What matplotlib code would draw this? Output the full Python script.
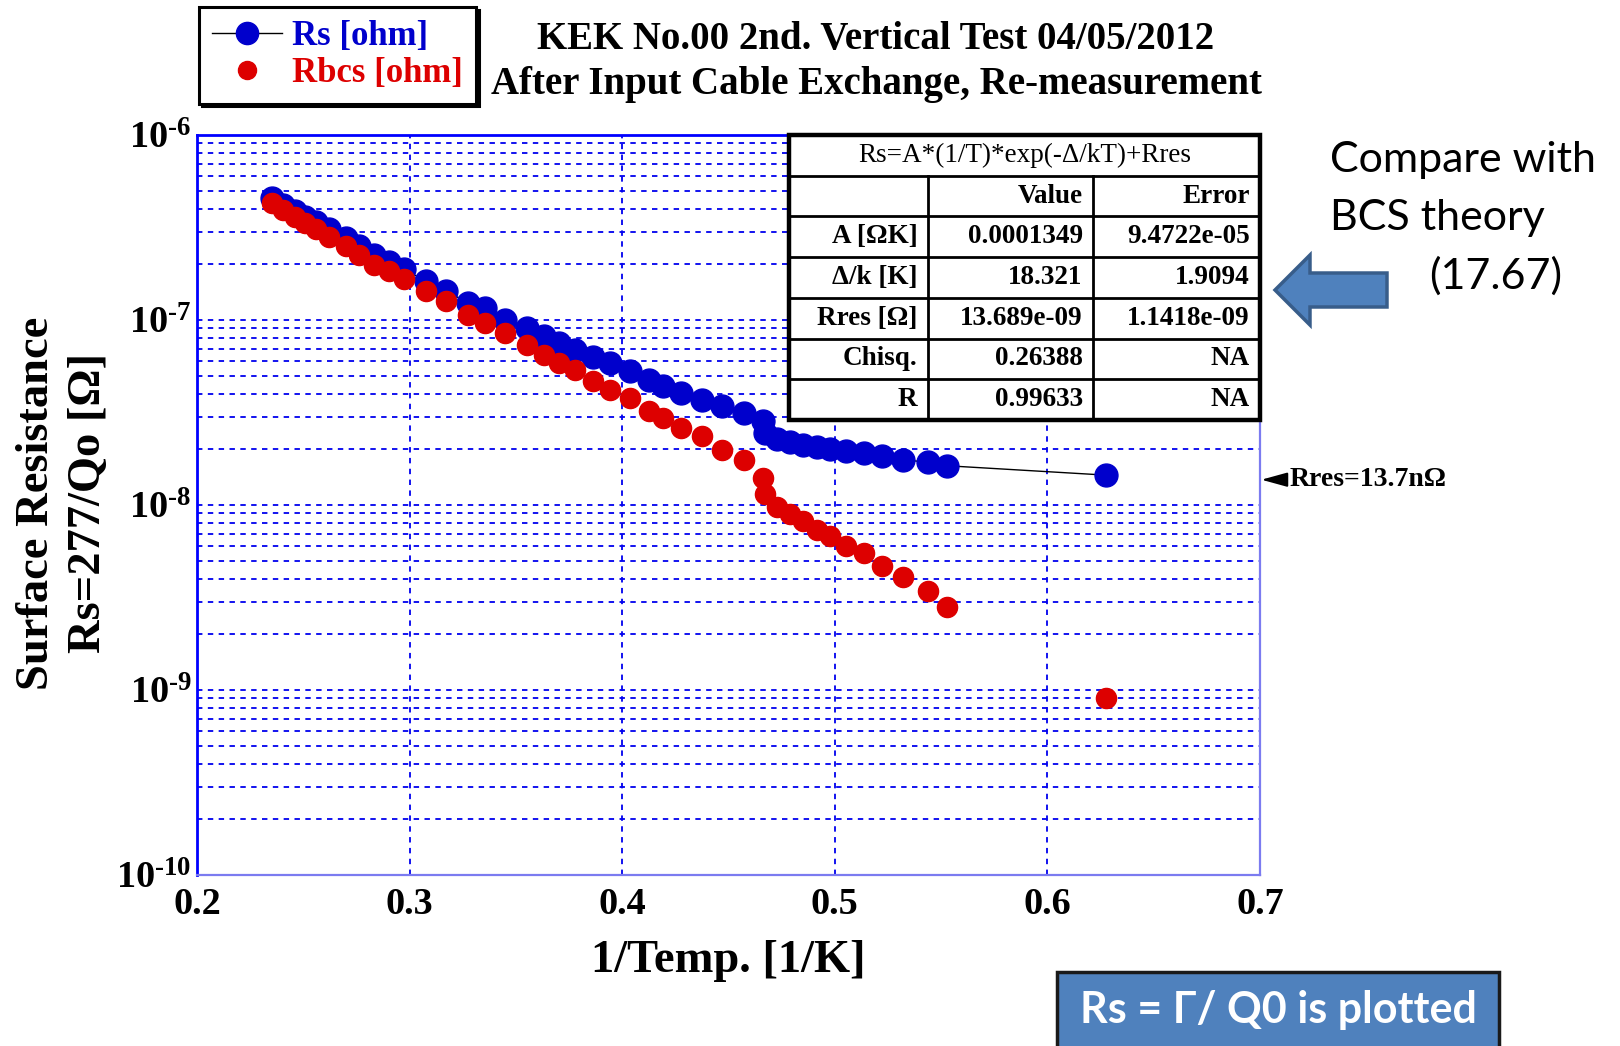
import matplotlib
matplotlib.use("Agg")
import matplotlib.pyplot as plt
from matplotlib.lines import Line2D
from matplotlib.patches import Rectangle, FancyArrow
from matplotlib.ticker import LogLocator, FuncFormatter, FixedLocator
import numpy as np

plt.rcParams['font.family'] = ['Liberation Serif', 'DejaVu Serif']
plt.rcParams['font.weight'] = 'bold'
plt.rcParams['mathtext.fontset'] = 'custom'
plt.rcParams['mathtext.rm'] = 'Liberation Serif:bold'
plt.rcParams['mathtext.bf'] = 'Liberation Serif:bold'
plt.rcParams['mathtext.default'] = 'bf'

# 1/T [1/K]
inv_temp = [0.2355, 0.2405, 0.2460, 0.2510, 0.2560, 0.2620, 0.2703, 0.2760, 0.2832, 0.2902,
            0.2973, 0.3079, 0.3173, 0.3275, 0.3357, 0.3451, 0.3553, 0.3631, 0.3702, 0.3780,
            0.3863, 0.3941, 0.4035, 0.4125, 0.4190, 0.4278, 0.4376, 0.4470, 0.4572, 0.4660,
            0.4670, 0.4730, 0.4790, 0.4850, 0.4915, 0.4976, 0.5053, 0.5137, 0.5223, 0.5321,
            0.5438, 0.5528, 0.6277]
# measured surface resistance [ohm]
rs_ohm = [4.56e-7, 4.20e-7, 3.88e-7, 3.62e-7, 3.40e-7, 3.12e-7, 2.77e-7, 2.52e-7, 2.25e-7, 2.05e-7,
          1.88e-7, 1.62e-7, 1.43e-7, 1.24e-7, 1.16e-7, 1.00e-7, 9.05e-8, 8.15e-8, 7.50e-8, 6.90e-8,
          6.30e-8, 5.86e-8, 5.28e-8, 4.75e-8, 4.40e-8, 4.03e-8, 3.71e-8, 3.41e-8, 3.14e-8, 2.83e-8,
          2.45e-8, 2.28e-8, 2.20e-8, 2.12e-8, 2.05e-8, 2.00e-8, 1.95e-8, 1.91e-8, 1.83e-8, 1.76e-8,
          1.70e-8, 1.63e-8, 1.45e-8]
# BCS part (residual removed) [ohm]
rbcs_ohm = [4.29e-7, 3.95e-7, 3.60e-7, 3.35e-7, 3.10e-7, 2.81e-7, 2.50e-7, 2.25e-7, 1.99e-7, 1.85e-7,
            1.67e-7, 1.43e-7, 1.26e-7, 1.07e-7, 9.60e-8, 8.50e-8, 7.35e-8, 6.50e-8, 5.86e-8, 5.35e-8,
            4.70e-8, 4.20e-8, 3.79e-8, 3.21e-8, 2.95e-8, 2.60e-8, 2.35e-8, 1.99e-8, 1.76e-8, 1.40e-8,
            1.14e-8, 9.80e-9, 8.90e-9, 8.15e-9, 7.35e-9, 6.76e-9, 6.02e-9, 5.50e-9, 4.66e-9, 4.08e-9,
            3.41e-9, 2.81e-9, 9.0e-10]

x_ticks = [0.2, 0.3, 0.4, 0.5, 0.6, 0.7]
y_decades = [1e-10, 1e-9, 1e-8, 1e-7, 1e-6]

fit_title = "Rs=A*(1/T)*exp(-Δ/kT)+Rres"
fit_cols = ["", "Value", "Error"]
fit_names = ["A [ΩK]", "Δ/k [K]", "Rres [Ω]", "Chisq.", "R"]
fit_values = ["0.0001349", "18.321", "13.689e-09", "0.26388", "0.99633"]
fit_errors = ["9.4722e-05", "1.9094", "1.1418e-09", "NA", "NA"]
rres_fit = 13.7e-9

BLUE = '#0000cc'
RED = '#dd0000'
W, H = 1620, 1046


def fx(px):
    return px / W


def fy(py):
    return 1 - py / H


def decade_label(v, pos):
    return r'$\mathbf{10}^{\text{-%d}}$' % round(-np.log10(v))


fig = plt.figure(figsize=(W / 100, H / 100), dpi=100)
ax = fig.add_axes([fx(197), fy(875), (1260 - 197) / W, (875 - 135) / H])

ax.plot(inv_temp, rs_ohm, color='k', lw=1, marker='o', ms=16.5,
        mfc=BLUE, mec=BLUE, zorder=3)
ax.plot(inv_temp, rbcs_ohm, ls='none', marker='o', ms=14.5,
        mfc=RED, mec=RED, zorder=4)

ax.set_yscale('log')
ax.set_xlim(0.2, 0.7)
ax.set_ylim(1e-10, 1e-6)
ax.xaxis.set_major_locator(FixedLocator(x_ticks))
ax.set_xticklabels([f"{t:.1f}" for t in x_ticks])
ax.yaxis.set_major_locator(FixedLocator(y_decades))
ax.yaxis.set_minor_locator(LogLocator(base=10, subs=np.arange(2, 10)))
ax.yaxis.set_major_formatter(FuncFormatter(decade_label))
ax.yaxis.set_minor_formatter(FuncFormatter(lambda v, p: ''))
ax.tick_params(axis='both', which='both', length=0, labelsize=27.5)
ax.tick_params(axis='x', pad=9)
ax.tick_params(axis='y', pad=4)

ax.set_axisbelow(True)
ax.grid(True, which='both', color='#0000ee', linestyle=(0, (3, 3)), linewidth=1.3)

for side in ['left', 'top']:
    ax.spines[side].set_color('#0000ff')
    ax.spines[side].set_linewidth(2)
for side in ['right', 'bottom']:
    ax.spines[side].set_color('#7b7bf0')
    ax.spines[side].set_linewidth(1.6)

# axis labels
fig.text(fx(728), fy(961), "1/Temp. [1/K]", ha='center', va='center', fontsize=33.5)
fig.text(fx(63), fy(503), "Surface Resistance\nRs=277/Qo [Ω]", rotation=90,
         ha='center', va='center', multialignment='center', fontsize=33.5, linespacing=1.3)

# title
fig.text(fx(876), fy(40), "KEK No.00 2nd. Vertical Test 04/05/2012",
         ha='center', va='center', fontsize=28)
fig.text(fx(876), fy(85), "After Input Cable Exchange, Re-measurement",
         ha='center', va='center', fontsize=28)

# legend
handles = [Line2D([], [], color='k', lw=1, marker='o', ms=16, mfc=BLUE, mec=BLUE),
           Line2D([], [], ls='none', marker='o', ms=13, mfc=RED, mec=RED)]
leg = fig.legend(handles, ["Rs [ohm]", "Rbcs [ohm]"], loc='upper left',
                 bbox_to_anchor=(fx(199), fy(7)), frameon=True, fancybox=False,
                 edgecolor='k', shadow={'color': 'k', 'alpha': 1},
                 labelcolor=[BLUE, RED], prop={'size': 25, 'weight': 'bold'},
                 handlelength=2.0, handletextpad=0.3, borderpad=0.38,
                 labelspacing=0.12, borderaxespad=0)
leg.get_frame().set_linewidth(2.2)

# fit result table
tab = fig.add_axes([fx(789), fy(420), (1260 - 789) / W, (420 - 135) / H], zorder=5)
tab.set_xlim(0, 1)
tab.set_ylim(0, 7)
tab.axis('off')
col_edges = [0, (928 - 789) / 471, (1093 - 789) / 471, 1]
tab.add_patch(Rectangle((0, 0), 1, 7, facecolor='white', edgecolor='none', zorder=1))
for r in range(1, 7):
    tab.plot([0, 1], [r, r], color='k', lw=2, zorder=2)
for c in col_edges[1:-1]:
    tab.plot([c, c], [0, 6], color='k', lw=2, zorder=2)
tab.add_patch(Rectangle((0, 0), 1, 7, facecolor='none', edgecolor='k', lw=3.2,
                        zorder=3, clip_on=False))
tab.text(0.5, 6.5, fit_title, ha='center', va='center', fontsize=19.5, weight='normal')
pad = 0.022
rows = [fit_cols] + [[n, v, e] for n, v, e in zip(fit_names, fit_values, fit_errors)]
for i, row in enumerate(rows):
    yc = 5.5 - i
    for j, cell in enumerate(row):
        tab.text(col_edges[j + 1] - pad, yc, cell, ha='right', va='center', fontsize=19.5)

# residual marker on the right axis
ax.annotate("Rres=13.7nΩ", xy=(1.0, rres_fit), xycoords=('axes fraction', 'data'),
            xytext=(21, 0), textcoords='offset points', ha='left', va='center',
            fontsize=20,
            arrowprops=dict(arrowstyle='-|>,head_length=0.8,head_width=0.22',
                            color='k', lw=1.4, shrinkA=2, shrinkB=1))

# comparison note with block arrow
fig.text(fx(1330), fy(160), "Compare with", ha='left', va='center',
         fontsize=31, family='Lato', weight='normal')
fig.text(fx(1330), fy(218), "BCS theory", ha='left', va='center',
         fontsize=31, family='Lato', weight='normal')
fig.text(fx(1429), fy(276), "(17.67)", ha='left', va='center',
         fontsize=31, family='Lato', weight='normal')
fig.add_artist(FancyArrow(fx(1387), fy(290), -(1387 - 1275) / W, 0,
                          width=34 / H, head_width=70 / H, head_length=35 / W,
                          length_includes_head=True, transform=fig.transFigure,
                          facecolor='#4f81bd', edgecolor='#385d8a', lw=2.5))

# note box
fig.add_artist(Rectangle((fx(1057), fy(1046) - 0.01), (1499 - 1057) / W, (1046 - 972) / H + 0.01,
                         transform=fig.transFigure, facecolor='#4f81bd',
                         edgecolor='#1a1a1a', lw=2.5))
fig.text(fx(1278), fy(1010), "Rs = Γ/ Q0 is plotted", ha='center', va='center',
         fontsize=31, family='Lato', weight='bold', color='white')

fig.savefig('out.png', dpi=100)
